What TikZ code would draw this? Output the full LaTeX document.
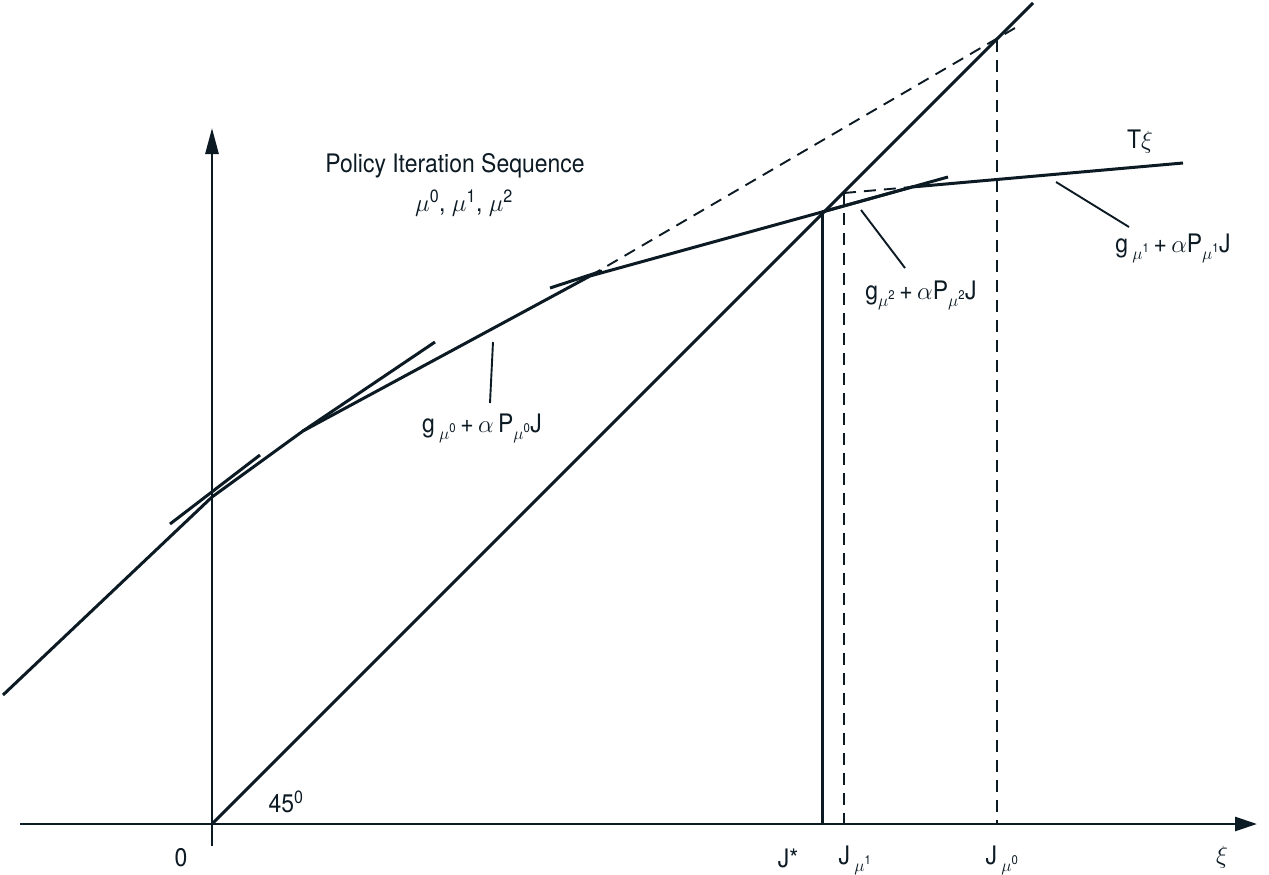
\documentclass[tikz,border=0pt]{standalone}
\usepackage{fontspec}
\setmainfont{TeX Gyre Heros}[FakeStretch=0.9]
\usetikzlibrary{arrows.meta}
\definecolor{ink}{RGB}{12,26,36}
\newcommand{\musub}[1]{\raisebox{-0.28em}{\fontsize{18}{18}\selectfont$\mu$\textsuperscript{#1}}}
\begin{document}
\begin{tikzpicture}[x=1pt,y=-1pt, color=ink,
  curve/.style={line width=3pt},
  axisln/.style={line width=2.8pt},
  ptr/.style={line width=1.9pt},
  dashln/.style={line width=1.9pt, dash pattern=on 12pt off 8pt},
  lbl/.style={font=\fontsize{25.5}{29}\selectfont, text=ink, inner sep=0pt}]
\useasboundingbox (0,0) rectangle (1269,875);
% key points
\coordinate (O) at (212,824);
\coordinate (xs) at (20,824);
\coordinate (xe) at (1257,824);
\coordinate (ys) at (212,846);
\coordinate (ye) at (212,128);
\coordinate (d45) at (1033,3);
\coordinate (t0) at (3,695);
\coordinate (t1) at (212,497);
\coordinate (t2) at (303,431);
\coordinate (t3) at (590,276);
\coordinate (Js) at (822,212);
\coordinate (t5) at (912,187);
\coordinate (t6) at (1183,163);
\coordinate (Jsx) at (822,824);
\coordinate (J1) at (844,193);
\coordinate (J1x) at (844,824);
\coordinate (J0) at (997,40);
\coordinate (J0x) at (997,824);
% axes
\draw[axisln, -{Triangle[length=22pt,width=14pt]}] (xs) -- (xe);
\draw[axisln, -{Triangle[length=26pt,width=13pt]}] (ys) -- (ye);
% 45 degree line
\draw[curve] (O) -- (d45);
% T curve
\draw[curve, line join=miter] (t0) -- (t1) -- (t2) -- (t3) -- (Js) -- (t5) -- (t6);
% tangent pieces
\draw[curve] (170,524) -- (260,455);
\draw[curve] (t2) -- (435,342);
\draw[curve] (550,288) -- (602,271);
\draw[curve] (Js) -- (948,177);
% dashed extensions
\draw[dashln] (t3) -- (1015,28);
\draw[dashln] (J1) -- (t5);
\draw[dashln] (J1) -- (J1x);
\draw[dashln] (J0) -- (J0x);
\draw[curve] (Js) -- (Jsx);
% pointers
\draw[ptr] (861,210) -- (905,268);
\draw[ptr] (1056,182) -- (1129,227);
\draw[ptr] (493,342) -- (490,403);
% labels
\node[lbl] (title) at (455,166) {Policy Iteration Sequence};
\node[lbl] (seq) at (464,203) {$\mu$\textsuperscript{0}, $\mu$\textsuperscript{1}, $\mu$\textsuperscript{2}};
\node[lbl] (Tx) at (1140,142) {T$\xi$};
\node[lbl] (g0) at (482,428) {g\,\musub{0}\,+\,$\alpha$\,P\musub{0}J};
\node[lbl] (g1) at (1173,248) {g\,\musub{1}\,+\,$\alpha$P\musub{1}J};
\node[lbl] (g2) at (921,295) {g\musub{2}\,+\,$\alpha$P\musub{2}J};
\node[lbl] (zero) at (181,858) {0};
\node[lbl] (deg) at (286,802) {45\textsuperscript{0}};
\node[lbl] (Jstar) at (788,858) {J*};
\node[lbl] (Jm1) at (855,860) {J\,\musub{1}};
\node[lbl] (Jm0) at (1002,860) {J\,\musub{0}};
\node[lbl] (xi) at (1222,857) {$\xi$};
\end{tikzpicture}
\end{document}
